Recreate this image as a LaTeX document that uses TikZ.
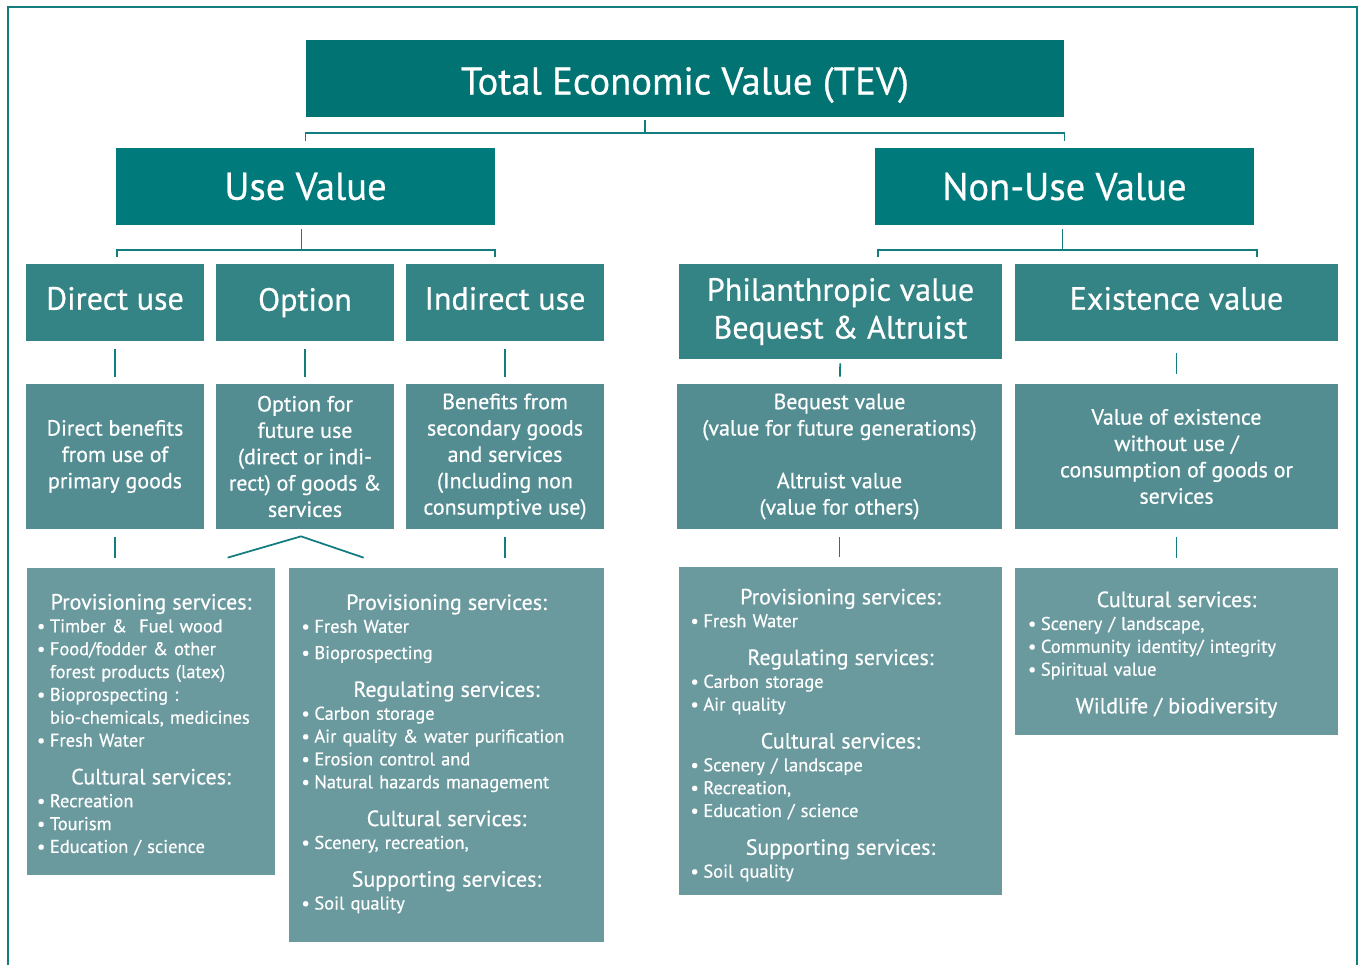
\documentclass[tikz,border=0pt]{standalone}
\usepackage{fontspec}
\setmainfont{PT Sans}[FakeBold=0.6]
\usetikzlibrary{calc}
\definecolor{tevfill}{HTML}{007372}
\definecolor{valfill}{HTML}{007A7B}
\definecolor{kindfill}{HTML}{348385}
\definecolor{benfill}{HTML}{538D92}
\definecolor{servfill}{HTML}{6A999E}
\definecolor{linkcol}{HTML}{127C7E}
\newcommand\hdr[1]{\par{\centering\noindent\fontsize{12.5}{15.5}\selectfont #1\par}}
\newcommand\itm[1]{\par\hangindent=0.7em\hangafter=1\noindent\makebox[0.7em][l]{\textbullet}#1\par}
\newcommand\gap{\vspace{6pt}}
\newcommand\shift[2]{\raisebox{#1}[\height][\depth]{#2}}
\begin{document}
\begin{tikzpicture}[x=0.2mm,y=-0.2mm,
  box/.style={rectangle, inner sep=0pt, text=white, align=center},
  tev/.style={box, fill=tevfill, minimum width=151.6mm, minimum height=15.4mm, font=\fontsize{22}{27}\selectfont},
  val/.style={box, fill=valfill, minimum width=75.8mm, minimum height=15.4mm, font=\fontsize{22}{27}\selectfont},
  kind/.style={box, fill=kindfill, minimum height=15.4mm, font=\fontsize{18.3}{21.5}\selectfont},
  ben/.style={box, fill=benfill, minimum height=29mm, font=\fontsize{12.5}{15}\selectfont},
  serv/.style={box, fill=servfill, align=left, font=\fontsize{10.5}{13}\selectfont},
  link/.style={draw, linkcol, line width=0.35mm},
  drop/.style={link, shorten <=1.6mm, shorten >=1.4mm}]
\useasboundingbox (0,0) rectangle (1361,965);
\draw[linkcol, line width=0.5mm] (8,965) -- (8,7) -- (1357,7) -- (1357,965);
% top levels
\node[tev] (1) at (685,78.5) {\shift{-1.3mm}{Total Economic Value (TEV)}};
\node[val] (2) at (305.5,186.5) {Use Value};
\node[val] (3) at (1064.5,186.5) {Non-Use Value};
% kinds of value
\node[kind, minimum width=35.6mm] (4) at (115,302.5) {\shift{0.8mm}{Direct use}};
\node[kind, minimum width=35.6mm] (5) at (305,302.5) {Option};
\node[kind, minimum width=39.6mm] (6) at (505,302.5) {\shift{0.8mm}{Indirect use}};
\node[kind, minimum width=64.6mm, minimum height=19mm] (7) at (840.5,311.5) {Philanthropic value\\Bequest \& Altruist};
\node[kind, minimum width=64.6mm] (8) at (1176.5,302.5) {\shift{0.8mm}{Existence value}};
% benefits
\node[ben, minimum width=35.6mm] (9) at (115,456.5) {Direct benefits\\from use of\\primary goods};
\node[ben, minimum width=35.6mm] (10) at (305,456.5) {Option for\\future use\\(direct or indi-\\rect) of goods \&\\services};
\node[ben, minimum width=39.6mm] (11) at (505,456.5) {Benefits from\\secondary goods\\and services\\(Including non\\consumptive use)};
\node[ben, minimum width=65mm] (12) at (839.5,456.5) {Bequest value\\(value for future generations)\\[15pt]Altruist value\\(value for others)};
\node[ben, minimum width=64.6mm] (13) at (1176.5,456.5) {Value of existence\\without use /\\consumption of goods or\\services};
% services
\node[serv, minimum width=49.6mm, minimum height=61.4mm, text width=45.6mm] (14) at (151,721.5) {%
\hdr{Provisioning services:}
\itm{Timber \&~ Fuel wood}
\itm{Food/fodder \& other\newline forest products (latex)}
\itm{Bioprospecting :\newline bio-chemicals, medicines}
\itm{Fresh Water}
\gap\hdr{Cultural services:}
\itm{Recreation}
\itm{Tourism}
\itm{Education / science}\vspace{3pt}};
\node[serv, minimum width=63mm, minimum height=74.8mm, text width=58mm] (15) at (446.5,755) {%
\hdr{Provisioning services:}
\itm{Fresh Water}
\vspace{2pt}\itm{Bioprospecting}
\gap\hdr{Regulating services:}
\itm{Carbon storage}
\itm{Air quality \& water purification}
\itm{Erosion control and}
\itm{Natural hazards management}
\gap\hdr{Cultural services:}
\itm{Scenery, recreation,}
\gap\hdr{Supporting services:}
\itm{Soil quality}\vspace{8pt}};
\node[serv, minimum width=64.6mm, minimum height=65.6mm, text width=60mm] (16) at (840.5,731) {%
\hdr{Provisioning services:}
\itm{Fresh Water}
\gap\hdr{Regulating services:}
\itm{Carbon storage}
\itm{Air quality}
\gap\hdr{Cultural services:}
\itm{Scenery / landscape}
\itm{Recreation,}
\itm{Education / science}
\gap\hdr{Supporting services:}
\itm{Soil quality}\vspace{2pt}};
\node[serv, minimum width=64.6mm, minimum height=33.4mm, text width=59.4mm] (17) at (1176.5,651.5) {%
\hdr{Cultural services:}
\itm{Scenery / landscape,}
\itm{Community identity/ integrity}
\itm{Spiritual value}
\gap\hdr{Wildlife / biodiversity}\vspace{3pt}};
% brackets
\path[link] ($(1.south)+(-40,3)$) -- ($(1.south)+(-40,16)$);
\path[link] ($(2.north)+(0,-7)$) -- ($(2.north)+(0,-15)$) -| ($(3.north)+(0,-7)$);
\path[link] ($(2.south)+(-4,4)$) -- ($(2.south)+(-4,25)$);
\path[link] ($(2.south west)+(1,32)$) -- ($(2.south west)+(1,25)$) -- ($(2.south east)+(0,25)$) -- ($(2.south east)+(0,32)$);
\path[link] ($(3.south)+(-2,4)$) -- ($(3.south)+(-2,25)$);
\path[link] ($(3.south west)+(3,32)$) -- ($(3.south west)+(3,25)$) -- ($(3.south east)+(3,25)$) -- ($(3.south east)+(3,32)$);
% drops
\path[drop] (4) -- (9);
\path[drop] (5) -- (10);
\path[drop] (6) -- (11);
\path[drop, shorten <=0.8mm] (7) -- (12);
\path[drop, shorten <=2.4mm, shorten >=2mm] (8) -- (13);
\path[drop, shorten >=2mm] (9.south) -- (9.south |- 14.north);
\path[drop, shorten >=2mm] (11.south) -- (11.south |- 15.north);
\path[drop, shorten >=2mm] (12.south) -- (12.south |- 16.north);
\path[drop, shorten >=2mm] (13.south) -- (13.south |- 17.north);
\path[link] ($(15.north west)+(-61,-10)$) -- ($(10.south)+(-4,7)$) -- ($(15.north west)+(75,-10)$);
\end{tikzpicture}
\end{document}
